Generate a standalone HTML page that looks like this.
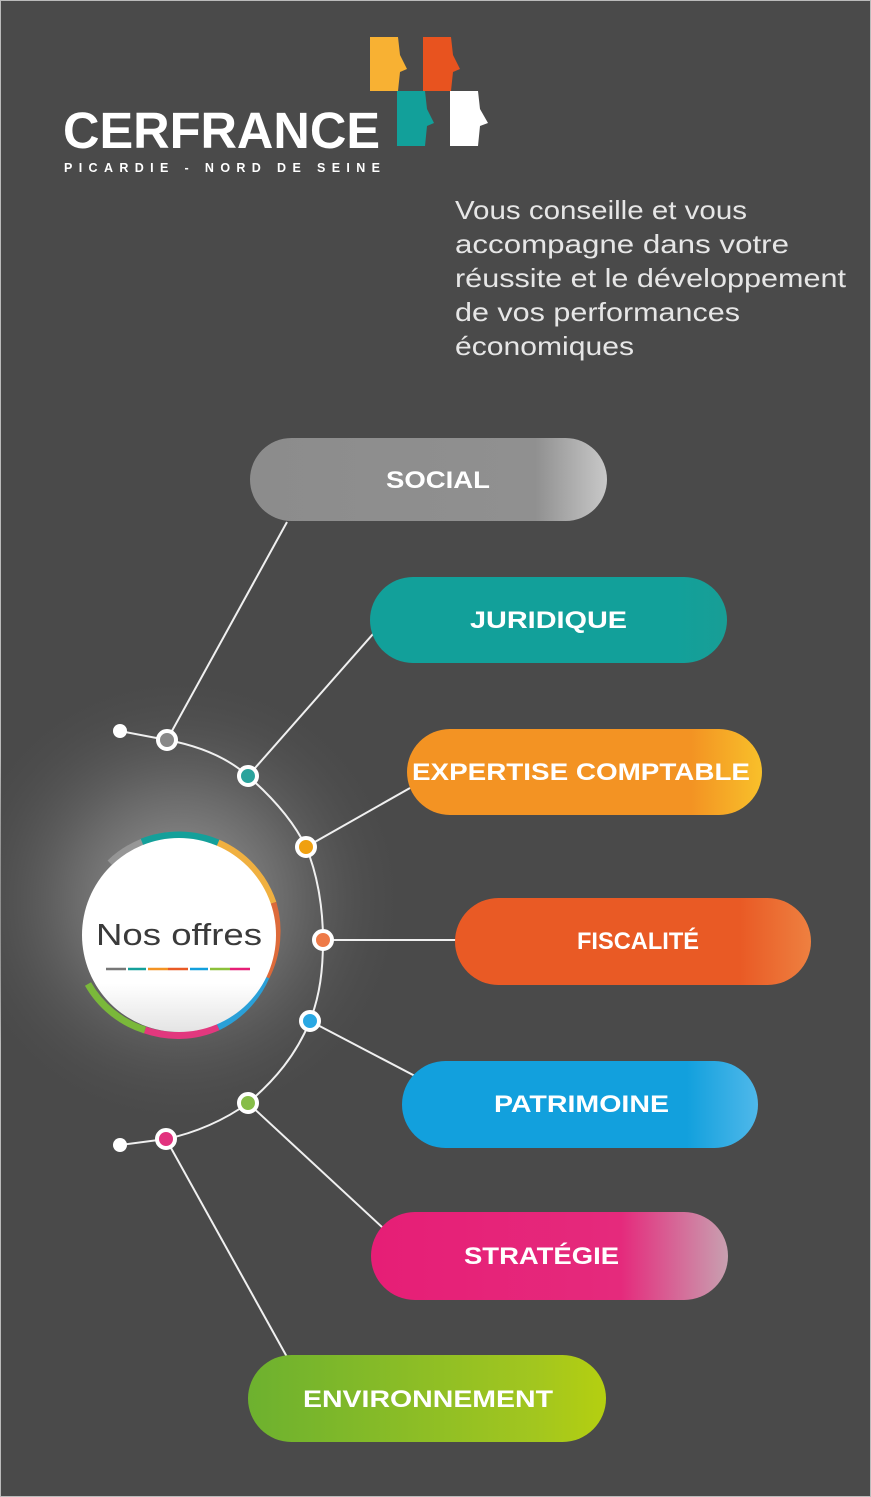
<!DOCTYPE html>
<html><head><meta charset="utf-8"><style>
html,body{margin:0;padding:0;background:#4a4a4a;}
svg{display:block}
text{font-family:"Liberation Sans",sans-serif;}
</style></head><body>
<svg width="871" height="1497" viewBox="0 0 871 1497" xmlns="http://www.w3.org/2000/svg">
<defs>
<radialGradient id="glow" cx="180" cy="900" r="230" gradientUnits="userSpaceOnUse">
<stop offset="0" stop-color="#9a9a9a"/><stop offset="0.5" stop-color="#666"/><stop offset="1" stop-color="#4a4a4a" stop-opacity="0"/></radialGradient>
<linearGradient id="gS" x1="0" x2="1"><stop offset="0" stop-color="#8c8c8c"/><stop offset="0.8" stop-color="#909090"/><stop offset="1" stop-color="#c8c8c8"/></linearGradient>
<linearGradient id="gJ" x1="0" x2="1"><stop offset="0" stop-color="#12a09a"/><stop offset="0.85" stop-color="#12a09a"/><stop offset="1" stop-color="#189e96"/></linearGradient>
<linearGradient id="gE" x1="0" x2="1"><stop offset="0" stop-color="#f39323"/><stop offset="0.8" stop-color="#f39323"/><stop offset="1" stop-color="#f8c02a"/></linearGradient>
<linearGradient id="gF" x1="0" x2="1"><stop offset="0" stop-color="#e95a25"/><stop offset="0.8" stop-color="#e95a25"/><stop offset="1" stop-color="#ee8040"/></linearGradient>
<linearGradient id="gP" x1="0" x2="1"><stop offset="0" stop-color="#12a0dd"/><stop offset="0.8" stop-color="#12a0dd"/><stop offset="1" stop-color="#4fb8ea"/></linearGradient>
<linearGradient id="gT" x1="0" x2="1"><stop offset="0" stop-color="#e61e76"/><stop offset="0.7" stop-color="#e52a7c"/><stop offset="1" stop-color="#c8a0b0"/></linearGradient>
<linearGradient id="gV" x1="0" x2="1"><stop offset="0" stop-color="#6db12f"/><stop offset="0.8" stop-color="#a2c61f"/><stop offset="1" stop-color="#b5cf10"/></linearGradient>
<linearGradient id="circ" x1="0" y1="0" x2="0" y2="1"><stop offset="0.75" stop-color="#fff"/><stop offset="1" stop-color="#e4e4e4"/></linearGradient>
</defs>
<rect x="0" y="0" width="871" height="1497" fill="#4a4a4a"/>
<rect x="0.5" y="0.5" width="870" height="1496" fill="none" stroke="#bbb" stroke-width="1"/>
<circle cx="180" cy="900" r="230" fill="url(#glow)"/>

<!-- logo -->
<text x="63" y="148" font-size="51" font-weight="bold" fill="#fff" textLength="317" lengthAdjust="spacingAndGlyphs">CERFRANCE</text>
<text x="64" y="172" font-size="12.5" font-weight="bold" fill="#fff" textLength="316">PICARDIE - NORD DE SEINE</text>
<path d="M370 37 H398 L400 55 L407 69 L400 72 L398 91 H370 Z" fill="#f8b133"/>
<path d="M423 37 H451 L453 55 L460 69 L453 72 L451 91 H423 Z" fill="#e8531f"/>
<path d="M397 91 H425 L427 109 L434 123 L427 126 L425 146 H397 Z" fill="#12a09a"/>
<path d="M450 91 H478 L480 109 L488 123 L480 126 L478 146 H450 Z" fill="#fff"/>

<!-- tagline -->
<g font-size="26" fill="#e6e6e6" lengthAdjust="spacingAndGlyphs">
<text x="455" y="219" textLength="292" lengthAdjust="spacingAndGlyphs">Vous conseille et vous</text>
<text x="455" y="253" textLength="334" lengthAdjust="spacingAndGlyphs">accompagne  dans votre</text>
<text x="455" y="287" textLength="391" lengthAdjust="spacingAndGlyphs">réussite et le développement</text>
<text x="455" y="321" textLength="285" lengthAdjust="spacingAndGlyphs">de vos performances</text>
<text x="455" y="355" textLength="179" lengthAdjust="spacingAndGlyphs">économiques</text>
</g>

<!-- connectors -->
<g stroke="#f0f0f0" stroke-width="2" fill="none">
<path d="M120 731 L167 740 C205 747 230 760 248 776 C272 797 293 820 306 847 C318 875 323 910 323 940 C323 970 320 995 310 1021 C296 1055 275 1080 248 1103 C225 1120 195 1133 166 1139 L120 1145"/>
<line x1="167" y1="740" x2="287" y2="522"/>
<line x1="248" y1="776" x2="373" y2="634"/>
<line x1="306" y1="847" x2="410" y2="788"/>
<line x1="323" y1="940" x2="456" y2="940"/>
<line x1="310" y1="1021" x2="415" y2="1076"/>
<line x1="248" y1="1103" x2="383" y2="1228"/>
<line x1="166" y1="1139" x2="287" y2="1357"/>
</g>
<circle cx="120" cy="731" r="7" fill="#fff"/>
<circle cx="120" cy="1145" r="7" fill="#fff"/>
<g stroke="#fff" stroke-width="4">
<circle cx="167" cy="740" r="9" fill="#888"/>
<circle cx="248" cy="776" r="9" fill="#2aa39c"/>
<circle cx="306" cy="847" r="9" fill="#f0a010"/>
<circle cx="323" cy="940" r="9" fill="#ee7a48"/>
<circle cx="310" cy="1021" r="9" fill="#2aa8e3"/>
<circle cx="248" cy="1103" r="9" fill="#86bd48"/>
<circle cx="166" cy="1139" r="9" fill="#e2327e"/>
</g>

<!-- central circle -->
<g fill="none" stroke-width="7">
<path d="M179 835 A100 100 0 0 0 110 863" stroke="#aaa" opacity="0.6"/>
<path d="M142 842 A100 100 0 0 1 218 843" stroke="#14a09a"/>
<path d="M218 843 A100 100 0 0 1 273 903" stroke="#f0b040"/>
<path d="M273 903 A100 100 0 0 1 266 977" stroke="#dd6a3a"/>
<path d="M266 977 A100 100 0 0 1 218 1027" stroke="#2aa0d8"/>
<path d="M218 1027 A100 100 0 0 1 145 1030" stroke="#e2387e"/>
<path d="M145 1030 A100 100 0 0 1 88 984" stroke="#7ab83a"/>
</g>
<circle cx="179" cy="935" r="97" fill="url(#circ)"/>
<text x="96" y="945" font-size="31" fill="#3a3a3a" textLength="166" lengthAdjust="spacingAndGlyphs">Nos offres</text>
<g stroke-width="2.5">
<line x1="106" y1="969" x2="126" y2="969" stroke="#777"/>
<line x1="128" y1="969" x2="146" y2="969" stroke="#14a09a"/>
<line x1="148" y1="969" x2="168" y2="969" stroke="#f39323"/>
<line x1="168" y1="969" x2="188" y2="969" stroke="#e95a25"/>
<line x1="190" y1="969" x2="208" y2="969" stroke="#12a0dd"/>
<line x1="210" y1="969" x2="230" y2="969" stroke="#8cc03a"/>
<line x1="230" y1="969" x2="250" y2="969" stroke="#e61e76"/>
</g>

<!-- pills -->
<g font-size="24" font-weight="bold" fill="#fff">
<rect x="250" y="438" width="357" height="83" rx="41.5" fill="url(#gS)"/>
<text x="386" y="488" textLength="104" lengthAdjust="spacingAndGlyphs">SOCIAL</text>
<rect x="370" y="577" width="357" height="86" rx="43" fill="url(#gJ)"/>
<text x="470" y="628" textLength="157" lengthAdjust="spacingAndGlyphs">JURIDIQUE</text>
<rect x="407" y="729" width="355" height="86" rx="43" fill="url(#gE)"/>
<text x="412" y="780" textLength="338" lengthAdjust="spacingAndGlyphs">EXPERTISE COMPTABLE</text>
<rect x="455" y="898" width="356" height="87" rx="43.5" fill="url(#gF)"/>
<text x="577" y="949" textLength="122" lengthAdjust="spacingAndGlyphs">FISCALITÉ</text>
<rect x="402" y="1061" width="356" height="87" rx="43.5" fill="url(#gP)"/>
<text x="494" y="1112" textLength="175" lengthAdjust="spacingAndGlyphs">PATRIMOINE</text>
<rect x="371" y="1212" width="357" height="88" rx="44" fill="url(#gT)"/>
<text x="464" y="1264" textLength="155" lengthAdjust="spacingAndGlyphs">STRATÉGIE</text>
<rect x="248" y="1355" width="358" height="87" rx="43.5" fill="url(#gV)"/>
<text x="303" y="1407" textLength="250" lengthAdjust="spacingAndGlyphs">ENVIRONNEMENT</text>
</g>
</svg>
</body></html>
